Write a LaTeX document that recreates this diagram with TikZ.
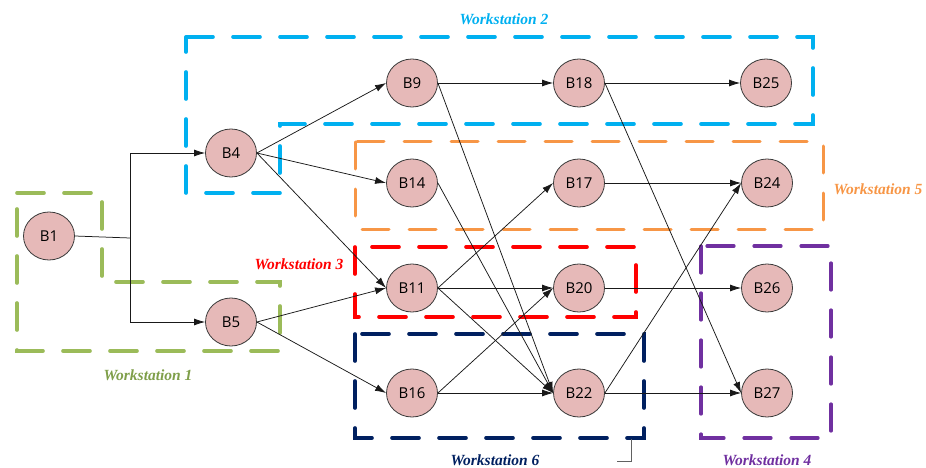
\documentclass[tikz,border=0pt]{standalone}
\usepackage{fontspec}
\usetikzlibrary{arrows.meta,shapes.geometric}
\newfontfamily\blockfont{Open Sans}
\newfontfamily\wsfont{Liberation Serif}
\definecolor{wsgreen}{HTML}{9BBB59}
\definecolor{wsgreentext}{HTML}{7F9F4A}
\definecolor{wsblue}{HTML}{00B0F0}
\definecolor{wsred}{HTML}{FF0000}
\definecolor{wsorange}{HTML}{F79646}
\definecolor{wsnavy}{HTML}{002060}
\definecolor{wspurple}{HTML}{7030A0}
\definecolor{blockfill}{HTML}{E6B9B8}
\definecolor{blockline}{HTML}{3A3A3A}
\tikzset{
  block/.style={ellipse, draw=blockline, line width=0.8pt, fill=blockfill,
    minimum width=51pt, minimum height=48pt, inner sep=0pt,
    font=\blockfont\fontsize{15}{15}\selectfont},
  link/.style={draw=black!90, line width=0.75pt, -{Latex[length=11pt,width=7pt]}},
  wsbox/.style={line width=3.6pt, line cap=round, dash pattern=on 27pt off 20pt},
  wslabel/.style={font=\wsfont\bfseries\itshape\fontsize{15.5}{15.5}\selectfont, inner sep=1pt}
}
\begin{document}
\begin{tikzpicture}[x=1pt,y=-1pt]
\useasboundingbox (0,0) rectangle (926,468);

% workstation frames
\draw[wsbox, wsgreen] (17,193) -- (102,193) -- (102,282) -- (280,282) -- (280,351) -- (17,351) -- cycle;
\draw[wsbox, wsblue] (186,37) -- (813,37) -- (813,124) -- (280,124) -- (280,193) -- (186,193) -- cycle;
\draw[wsbox, wsorange, line width=3pt] (355,142) rectangle (823,229);
\draw[wsbox, wsred] (355,247) rectangle (636,317);
\draw[wsbox, wsnavy] (355,334) rectangle (644,438);
\draw[wsbox, wspurple, line width=3.2pt] (701,246) rectangle (831,438);
\draw[blockline!80, line width=0.8pt] (631,439) -- (631,461) -- (617,461);

% workstation labels
\node[wslabel, text=wsgreentext] (l1) at (148,375) {Workstation 1};
\node[wslabel, text=wsblue]      (l2) at (504,19)  {Workstation 2};
\node[wslabel, text=wsred]       (l3) at (299,264) {Workstation 3};
\node[wslabel, text=wspurple]    (l4) at (767,460) {Workstation 4};
\node[wslabel, text=wsorange]    (l5) at (878,189) {Workstation 5};
\node[wslabel, text=wsnavy]      (l6) at (495,460) {Workstation 6};

% blocks
\node[block] (B1)  at (49,236)  {B1};
\node[block] (B4)  at (231,153) {B4};
\node[block] (B5)  at (231,322) {B5};
\node[block] (B9)  at (412,83)  {B9};
\node[block] (B18) at (579,83)  {B18};
\node[block] (B25) at (766,83)  {B25};
\node[block] (B14) at (412,183) {B14};
\node[block] (B17) at (579,183) {B17};
\node[block] (B24) at (767,183) {B24};
\node[block] (B11) at (412,288) {B11};
\node[block] (B20) at (579,288) {B20};
\node[block] (B26) at (767,288) {B26};
\node[block] (B16) at (412,393) {B16};
\node[block] (B22) at (579,393) {B22};
\node[block] (B27) at (767,393) {B27};

% precedence links
\coordinate (split) at (130,238);
\draw[line width=0.75pt, draw=black!90] (B1.east) -- (split);
\draw[link] (split) |- (B4.west);
\draw[link] (split) |- (B5.west);
\draw[link] (B4.east) -- (B9.west);
\draw[link] (B4.east) -- (B14.west);
\draw[link] (B4.east) -- (B11.west);
\draw[link] (B5.east) -- (B11.west);
\draw[link] (B5.east) -- (B16.west);
\draw[link] (B9.east) -- (B18.west);
\draw[link] (B9.east) -- (B22.west);
\draw[link] (B18.east) -- (B25.west);
\draw[link] (B18.east) -- (B27.west);
\draw[link] (B14.east) -- (B22.west);
\draw[link] (B17.east) -- (B24.west);
\draw[link] (B11.east) -- (B17.west);
\draw[link] (B11.east) -- (B20.west);
\draw[link] (B11.east) -- (B22.west);
\draw[link] (B16.east) -- (B20.west);
\draw[link] (B16.east) -- (B22.west);
\draw[link] (B20.east) -- (B26.west);
\draw[link] (B22.east) -- (B24.west);
\draw[link] (B22.east) -- (B27.west);
\end{tikzpicture}
\end{document}
